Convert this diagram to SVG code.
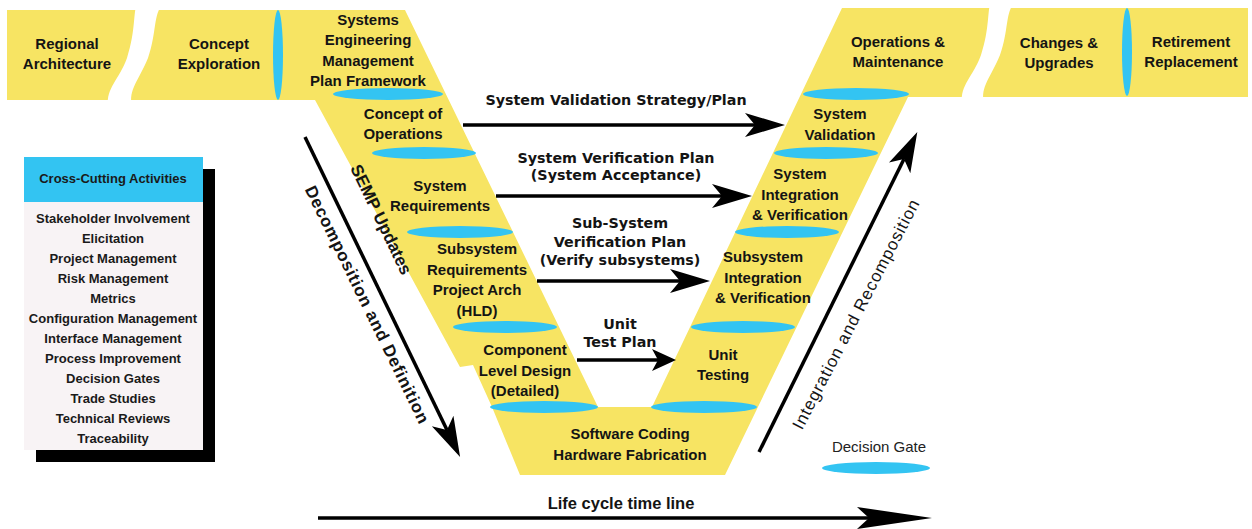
<svg xmlns="http://www.w3.org/2000/svg" width="1252" height="529" viewBox="0 0 1252 529">
<style>
.n{font-family:"Liberation Sans",Arial,sans-serif;font-weight:bold;font-size:15px;text-anchor:middle;fill:#141414}
.c{font-family:"DejaVu Sans",Verdana,sans-serif;font-weight:bold;font-size:14.3px;text-anchor:middle;fill:#141414}
.l{font-family:"Liberation Sans",Arial,sans-serif;font-weight:bold;font-size:13px;text-anchor:middle;fill:#1a1a1a}
.r{font-family:"Liberation Sans",Arial,sans-serif;font-weight:bold;font-size:17px;text-anchor:middle;fill:#141414}
.gate{fill:#33C4F2}
.ln{stroke:#000;stroke-width:3.5;fill:none}
</style>
<defs>
<marker id="ah" markerUnits="userSpaceOnUse" markerWidth="42" markerHeight="26" refX="10" refY="12" orient="auto"><path d="M0,0 L40,12 L0,24 L10,12 Z" fill="#000"/></marker>
<marker id="ahs" markerUnits="userSpaceOnUse" markerWidth="26" markerHeight="24" refX="6" refY="11" orient="auto"><path d="M0,0 L24,11 L0,22 L6,11 Z" fill="#000"/></marker>
<marker id="ahl" markerUnits="userSpaceOnUse" markerWidth="78" markerHeight="24" refX="12" refY="11" orient="auto"><path d="M0,0 L75,11 L0,22 L12,11 Z" fill="#000"/></marker>
</defs>
<rect width="1252" height="529" fill="#fff"/>
<g id="vee">
<path d="M7,10 L405,10 L598,407 L652,407 L842,8 L1248,8 L1248,97 L908,97 L725,475 L520,475 L492,407 L473,365 L460,367 L315,100 L7,100 Z" fill="#F7E463"/>
<path d="M137,4 C133,12 136,30 127,58 C119,80 106,88 108,106 L132,106 C128,90 139,80 148,58 C157,32 153,14 163,4 Z" fill="#fff"/>
<path d="M991,2 C987,10 990,28 981,55 C973,77 960,85 962,103 L984,103 C980,87 991,77 1000,55 C1009,30 1005,12 1015,2 Z" fill="#fff"/>
</g>
<g id="gates">
<ellipse class="gate" cx="278" cy="55" rx="5" ry="45"/>
<ellipse class="gate" cx="1127" cy="52" rx="5" ry="44"/>
<ellipse class="gate" cx="388" cy="94" rx="55" ry="6"/>
<ellipse class="gate" cx="424" cy="153" rx="52" ry="6"/>
<ellipse class="gate" cx="460" cy="232" rx="53" ry="6"/>
<ellipse class="gate" cx="505" cy="327" rx="52" ry="6"/>
<ellipse class="gate" cx="544" cy="407" rx="54" ry="6"/>
<ellipse class="gate" cx="704" cy="407" rx="53" ry="6"/>
<ellipse class="gate" cx="743" cy="327" rx="52" ry="6"/>
<ellipse class="gate" cx="787" cy="232" rx="52" ry="6"/>
<ellipse class="gate" cx="826" cy="153" rx="52" ry="6"/>
<ellipse class="gate" cx="856" cy="94" rx="53" ry="6"/>
</g>
<g id="regional"><text class="n" x="67" y="49">Regional</text><text class="n" x="67" y="69">Architecture</text></g>
<g id="concept"><text class="n" x="219" y="49">Concept</text><text class="n" x="219" y="69">Exploration</text></g>
<g id="semp"><text class="n" x="368" y="25">Systems</text><text class="n" x="368" y="45">Engineering</text><text class="n" x="368" y="66">Management</text><text class="n" x="368" y="86">Plan Framework</text></g>
<g id="conops"><text class="n" x="403" y="119">Concept of</text><text class="n" x="403" y="139">Operations</text></g>
<g id="sysreq"><text class="n" x="440" y="191">System</text><text class="n" x="440" y="211">Requirements</text></g>
<g id="subreq"><text class="n" x="477" y="254">Subsystem</text><text class="n" x="477" y="275">Requirements</text><text class="n" x="477" y="295">Project Arch</text><text class="n" x="477" y="316">(HLD)</text></g>
<g id="component"><text class="n" x="525" y="355">Component</text><text class="n" x="525" y="376">Level Design</text><text class="n" x="525" y="396">(Detailed)</text></g>
<g id="coding"><text class="n" x="630" y="439">Software Coding</text><text class="n" x="630" y="460">Hardware Fabrication</text></g>
<g id="unittest"><text class="n" x="723" y="360">Unit</text><text class="n" x="723" y="380">Testing</text></g>
<g id="subint"><text class="n" x="763" y="262">Subsystem</text><text class="n" x="763" y="283">Integration</text><text class="n" x="763" y="303">&amp; Verification</text></g>
<g id="sysint"><text class="n" x="800" y="179">System</text><text class="n" x="800" y="200">Integration</text><text class="n" x="800" y="220">&amp; Verification</text></g>
<g id="sysval"><text class="n" x="840" y="119">System</text><text class="n" x="840" y="140">Validation</text></g>
<g id="ops"><text class="n" x="898" y="47">Operations &amp;</text><text class="n" x="898" y="67">Maintenance</text></g>
<g id="changes"><text class="n" x="1059" y="48">Changes &amp;</text><text class="n" x="1059" y="68">Upgrades</text></g>
<g id="retire"><text class="n" x="1191" y="47">Retirement</text><text class="n" x="1191" y="67">Replacement</text></g>
<g id="crosscutting">
<rect x="36" y="169" width="179" height="293" fill="#000"/>
<rect x="24" y="157" width="179" height="293" fill="#F8F3F5"/>
<rect x="24" y="157" width="179" height="45" fill="#33C4F2"/>
<text class="l" x="113" y="183">Cross-Cutting Activities</text>
<text class="l" x="113" y="223">Stakeholder Involvement</text>
<text class="l" x="113" y="243">Elicitation</text>
<text class="l" x="113" y="263">Project Management</text>
<text class="l" x="113" y="283">Risk Management</text>
<text class="l" x="113" y="303">Metrics</text>
<text class="l" x="113" y="323">Configuration Management</text>
<text class="l" x="113" y="343">Interface Management</text>
<text class="l" x="113" y="363">Process Improvement</text>
<text class="l" x="113" y="383">Decision Gates</text>
<text class="l" x="113" y="403">Trade Studies</text>
<text class="l" x="113" y="423">Technical Reviews</text>
<text class="l" x="113" y="443">Traceability</text>
</g>
<g id="legend">
<text x="879" y="452" font-family="Liberation Sans,Arial,sans-serif" font-size="15" text-anchor="middle" fill="#222">Decision Gate</text>
<ellipse class="gate" cx="876" cy="468" rx="54" ry="6"/>
</g>
<g id="connectors">
<line class="ln" x1="463" y1="125" x2="755" y2="125" marker-end="url(#ah)"/>
<line class="ln" x1="496" y1="196" x2="722" y2="196" marker-end="url(#ah)"/>
<line class="ln" x1="537" y1="281" x2="680" y2="281" marker-end="url(#ah)"/>
<line class="ln" x1="577" y1="360" x2="658" y2="360" marker-end="url(#ahs)"/>
<line class="ln" x1="305" y1="137" x2="447" y2="430" marker-end="url(#ah)"/>
<line class="ln" x1="759" y1="452" x2="904" y2="159" marker-end="url(#ah)"/>
<line class="ln" x1="318" y1="518" x2="869" y2="518" stroke-width="4" marker-end="url(#ahl)"/>
</g>
<g id="labels">
<text class="c" x="616" y="105">System Validation Strategy/Plan</text>
<text class="c" x="616" y="163">System Verification Plan</text>
<text class="c" x="616" y="180">(System Acceptance)</text>
<text class="c" x="620" y="228">Sub-System</text>
<text class="c" x="620" y="247">Verification Plan</text>
<text class="c" x="620" y="265">(Verify subsystems)</text>
<text class="c" x="620" y="329">Unit</text>
<text class="c" x="620" y="347">Test Plan</text>
<text class="r" transform="translate(362,307) rotate(64)" textLength="262">Decomposition and Definition</text>
<text class="r" transform="translate(376,222) rotate(64.3)">SEMP Updates</text>
<text class="r" style="font-weight:normal" transform="translate(861,317) rotate(-62.6)" textLength="256">Integration and Recomposition</text>
<text class="r" x="621" y="509" style="font-size:16.5px">Life cycle time line</text>
</g>
</svg>
